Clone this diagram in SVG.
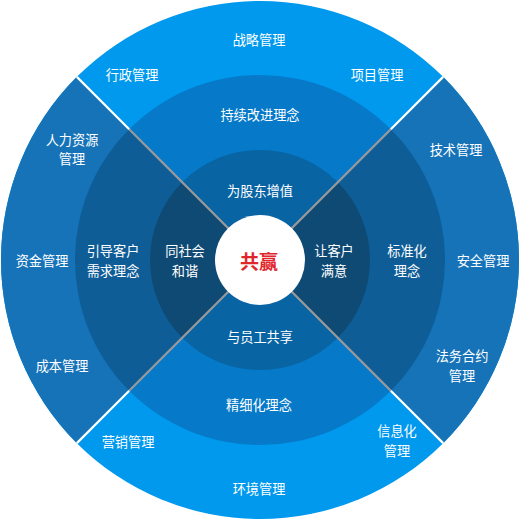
<svg xmlns="http://www.w3.org/2000/svg" width="520" height="520" viewBox="0 0 520 520">
<style>
text{font-family:"Noto Sans CJK SC","Noto Sans",sans-serif;font-size:13.2px;fill:#ffffff;text-anchor:middle;dominant-baseline:central}
.win{font-size:19px;font-weight:bold;fill:#e0262b}
.o1{fill:#0099ee}.o2{fill:#1673b8}
.m1{fill:#0679c8}.m2{fill:#0f5d96}
.i1{fill:#0964a4}.i2{fill:#0e4a74}
.sepw{stroke:#ffffff;stroke-width:2.2}
.sepg{stroke:#9a9a9a;stroke-width:2.2}
</style>
<rect width="520" height="520" fill="#ffffff"/>
<g id="outer-ring">
<circle class="o1" cx="260" cy="260" r="259"/>
<path class="o2" d="M260 260 L443.14 76.86 A259 259 0 0 1 443.14 443.14 Z"/>
<path class="o2" d="M260 260 L76.86 443.14 A259 259 0 0 1 76.86 76.86 Z"/>
</g>
<g id="middle-ring">
<circle class="m1" cx="260" cy="260" r="185"/>
<path class="m2" d="M260 260 L390.81 129.19 A185 185 0 0 1 390.81 390.81 Z"/>
<path class="m2" d="M260 260 L129.19 390.81 A185 185 0 0 1 129.19 129.19 Z"/>
</g>
<g id="inner-ring">
<circle class="i1" cx="260" cy="260" r="110"/>
<path class="i2" d="M260 260 L337.78 182.22 A110 110 0 0 1 337.78 337.78 Z"/>
<path class="i2" d="M260 260 L182.22 337.78 A110 110 0 0 1 182.22 182.22 Z"/>
</g>
<g id="connectors">
<line class="sepg" x1="129.19" y1="129.19" x2="390.81" y2="390.81"/>
<line class="sepg" x1="390.81" y1="129.19" x2="129.19" y2="390.81"/>
<line class="sepw" x1="76.86" y1="76.86" x2="129.19" y2="129.19"/>
<line class="sepw" x1="443.14" y1="76.86" x2="390.81" y2="129.19"/>
<line class="sepw" x1="76.86" y1="443.14" x2="129.19" y2="390.81"/>
<line class="sepw" x1="443.14" y1="443.14" x2="390.81" y2="390.81"/>
</g>
<g id="center">
<circle cx="260" cy="260" r="45" fill="#ffffff"/>
<text class="win" x="259" y="260">共赢</text>
</g>
<g id="outer-top">
<text x="259" y="39">战略管理</text>
<text x="132" y="74">行政管理</text>
<text x="377" y="74">项目管理</text>
</g>
<g id="outer-left">
<text x="72" y="139">人力资源</text>
<text x="72" y="158.5">管理</text>
<text x="42" y="260">资金管理</text>
<text x="62" y="365">成本管理</text>
</g>
<g id="outer-right">
<text x="456" y="149">技术管理</text>
<text x="483" y="260">安全管理</text>
<text x="462" y="355.5">法务合约</text>
<text x="462" y="375">管理</text>
</g>
<g id="outer-bottom">
<text x="128" y="441">营销管理</text>
<text x="397" y="430.5">信息化</text>
<text x="397" y="450">管理</text>
<text x="259" y="488">环境管理</text>
</g>
<g id="middle-top"><text x="260" y="114">持续改进理念</text></g>
<g id="middle-left"><text x="113" y="250.5">引导客户</text><text x="113" y="270">需求理念</text></g>
<g id="middle-right"><text x="407" y="250.5">标准化</text><text x="407" y="270">理念</text></g>
<g id="middle-bottom"><text x="259" y="404">精细化理念</text></g>
<g id="inner-top"><text x="260" y="190">为股东增值</text></g>
<g id="inner-left"><text x="185" y="250.5">同社会</text><text x="185" y="270">和谐</text></g>
<g id="inner-right"><text x="334" y="250.5">让客户</text><text x="334" y="270">满意</text></g>
<g id="inner-bottom"><text x="260" y="336">与员工共享</text></g>
</svg>
